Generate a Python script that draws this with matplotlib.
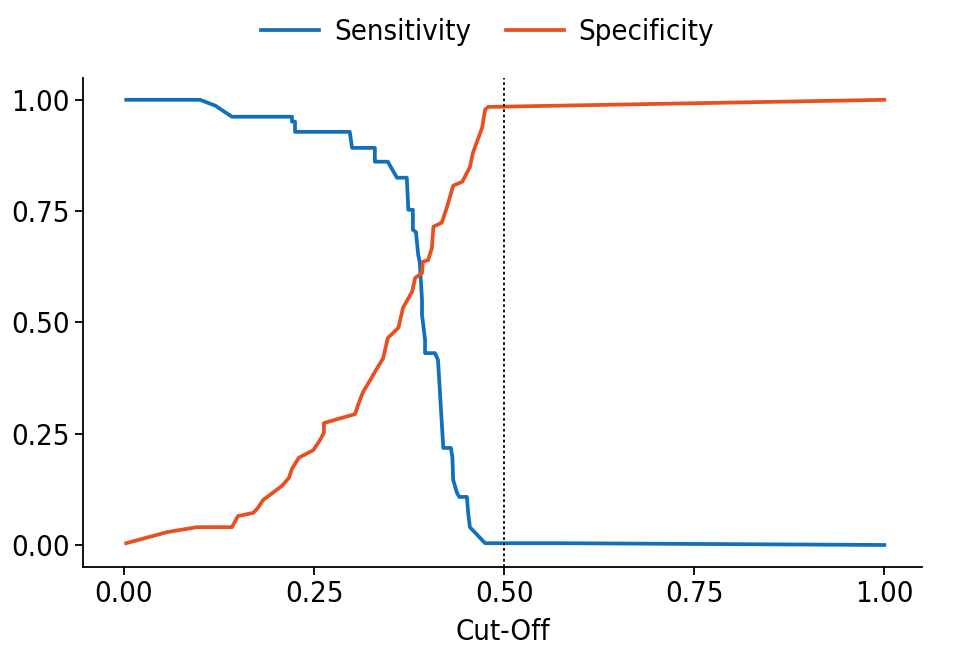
import matplotlib
matplotlib.use("Agg")
from matplotlib import pyplot as plt

# Sensitivity / specificity against the cut-off
sens_x = [0.003, 0.100, 0.120, 0.142, 0.221, 0.221, 0.225, 0.225, 0.297, 0.300,
          0.330, 0.330, 0.347, 0.359, 0.372, 0.374, 0.380, 0.380, 0.384, 0.387,
          0.389, 0.392, 0.392, 0.396, 0.396, 0.409, 0.413, 0.420, 0.430, 0.432,
          0.433, 0.438, 0.441, 0.451, 0.453, 0.455, 0.475, 0.574, 1.000]
sens_y = [1.000, 1.000, 0.987, 0.962, 0.962, 0.951, 0.951, 0.928, 0.928, 0.892,
          0.892, 0.861, 0.861, 0.825, 0.825, 0.753, 0.753, 0.708, 0.703, 0.652,
          0.636, 0.551, 0.517, 0.461, 0.431, 0.431, 0.416, 0.218, 0.218, 0.196,
          0.146, 0.117, 0.108, 0.108, 0.067, 0.040, 0.004, 0.004, 0.000]

spec_x = [0.003, 0.057, 0.096, 0.142, 0.150, 0.170, 0.176, 0.183, 0.208, 0.217,
          0.221, 0.230, 0.249, 0.258, 0.263, 0.263, 0.304, 0.308, 0.314, 0.324,
          0.341, 0.347, 0.361, 0.367, 0.379, 0.383, 0.392, 0.393, 0.400, 0.405,
          0.407, 0.418, 0.425, 0.433, 0.445, 0.455, 0.459, 0.471, 0.475, 0.479,
          1.000]
spec_y = [0.004, 0.029, 0.040, 0.040, 0.065, 0.072, 0.083, 0.101, 0.133, 0.151,
          0.171, 0.196, 0.213, 0.236, 0.252, 0.274, 0.294, 0.315, 0.342, 0.371,
          0.420, 0.465, 0.488, 0.533, 0.569, 0.600, 0.611, 0.636, 0.640, 0.667,
          0.715, 0.724, 0.760, 0.807, 0.816, 0.849, 0.881, 0.937, 0.978, 0.984,
          1.000]

cutoff = 0.5
ticks = [0.0, 0.25, 0.5, 0.75, 1.0]

plt.rcParams["font.family"] = ["DejaVu Sans"]
plt.rcParams["font.stretch"] = "condensed"

fig = plt.figure(figsize=(9.75, 6.5), dpi=100)
ax = fig.add_axes([0.085, 0.128, 0.861, 0.752])

ax.plot(sens_x, sens_y, color="#1170BA", lw=2.7, label="Sensitivity")
ax.plot(spec_x, spec_y, color="#E8501F", lw=2.7, label="Specificity")
ax.axvline(cutoff, color="black", ls=(0, (1.5, 1.5)), lw=1.3)

ax.set_xlim(-0.054, 1.05)
ax.set_ylim(-0.049, 1.049)
ax.set_xticks(ticks)
ax.set_yticks(ticks)
ax.set_xticklabels([f"{t:.2f}" for t in ticks])
ax.set_yticklabels([f"{t:.2f}" for t in ticks])
ax.tick_params(labelsize=21, width=1.3, length=6)
ax.set_xlabel("Cut-Off", fontsize=21, labelpad=7)

for side in ["top", "right"]:
    ax.spines[side].set_visible(False)
for side in ["left", "bottom"]:
    ax.spines[side].set_linewidth(1.3)

fig.legend(loc="upper center", bbox_to_anchor=(0.5, 1.012), ncol=2, frameon=False,
           fontsize=21, handlelength=2.0, handletextpad=0.5, columnspacing=1.2)

fig.savefig("out.png", dpi=100)
